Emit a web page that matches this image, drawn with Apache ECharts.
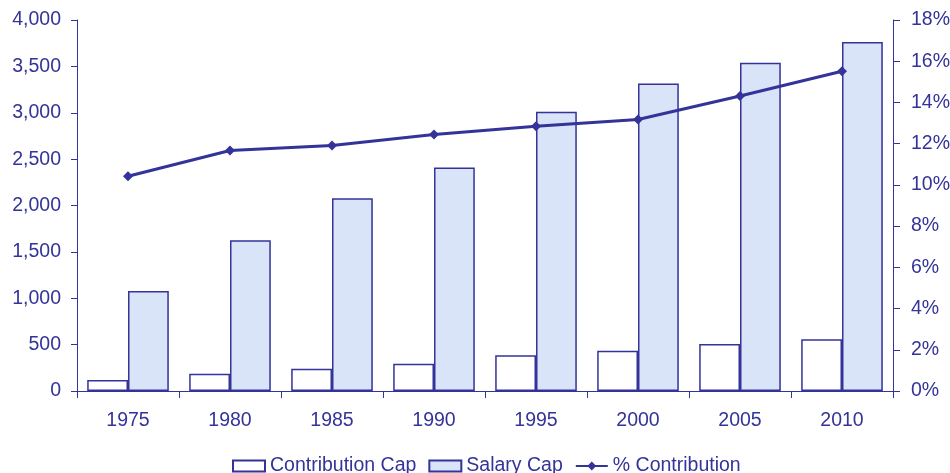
<!DOCTYPE html>
<html>
<head>
<meta charset="utf-8">
<script src="https://cdn.jsdelivr.net/npm/echarts@6/dist/echarts.min.js"></script>
<style>
  html, body { margin: 0; padding: 0; background: #ffffff; }
  #chart { width: 950px; height: 473px; }
</style>
</head>
<body>
<div id="chart"></div>
<script>
// Years on the category axis
const years = ['1975', '1980', '1985', '1990', '1995', '2000', '2005', '2010'];
// Contribution cap (left axis)
const contributionCap = [119, 187, 241, 295, 386, 435, 508, 558];
// Salary cap (left axis)
const salaryCap = [1077, 1624, 2077, 2409, 3010, 3316, 3540, 3762];
// Contribution as a percentage of salary (right axis)
const pctContribution = [10.42, 11.67, 11.91, 12.45, 12.85, 13.17, 14.31, 15.51];

const ink = '#333399';
const font = 'Liberation Sans, Arial, sans-serif';
const fs = 19.5;

const chart = echarts.init(document.getElementById('chart'));
chart.setOption({
  animation: false,
  backgroundColor: '#ffffff',
  textStyle: { fontFamily: font, color: ink },
  grid: { left: 77, right: 57, top: 20, bottom: 82, containLabel: false, outerBoundsMode: 'none' },
  legend: {
    bottom: -8,
    left: 227,
    itemWidth: 32,
    itemHeight: 11,
    itemGap: 12,
    textStyle: { fontFamily: font, fontSize: fs, color: ink },
    data: [
      { name: 'Contribution Cap', icon: 'rect' },
      { name: 'Salary Cap', icon: 'rect' },
      { name: '% Contribution' }
    ]
  },
  xAxis: {
    type: 'category',
    data: years,
    boundaryGap: true,
    axisLine: { lineStyle: { color: ink, width: 1 } },
    axisTick: { show: true, length: 7, alignWithLabel: false, lineStyle: { color: ink } },
    axisLabel: { fontSize: fs, color: ink, margin: 20, fontFamily: font }
  },
  yAxis: [
    {
      type: 'value',
      min: 0, max: 4000, interval: 500,
      axisLine: { show: true, lineStyle: { color: ink, width: 1 } },
      axisTick: { show: true, length: 6, lineStyle: { color: ink } },
      splitLine: { show: false },
      axisLabel: {
        fontSize: fs, color: ink, margin: 16, fontFamily: font,
        formatter: v => v.toLocaleString('en-US')
      }
    },
    {
      type: 'value',
      min: 0, max: 18, interval: 2,
      position: 'right',
      axisLine: { show: true, lineStyle: { color: ink, width: 1 } },
      axisTick: { show: true, length: 7, lineStyle: { color: ink } },
      splitLine: { show: false },
      axisLabel: { fontSize: fs, color: ink, margin: 18, fontFamily: font, formatter: '{value}%' }
    }
  ],
  series: [
    {
      name: 'Contribution Cap',
      type: 'bar',
      data: contributionCap,
      barGap: '0%',
      barCategoryGap: '20%',
      itemStyle: { color: '#ffffff', borderColor: ink, borderWidth: 1.5 }
    },
    {
      name: 'Salary Cap',
      type: 'bar',
      data: salaryCap,
      barGap: '0%',
      barCategoryGap: '20%',
      itemStyle: { color: '#dae4f8', borderColor: ink, borderWidth: 1.5 }
    },
    {
      name: '% Contribution',
      type: 'line',
      yAxisIndex: 1,
      data: pctContribution,
      symbol: 'diamond',
      symbolSize: 10,
      lineStyle: { color: ink, width: 3 },
      itemStyle: { color: ink }
    }
  ]
});
</script>
</body>
</html>
